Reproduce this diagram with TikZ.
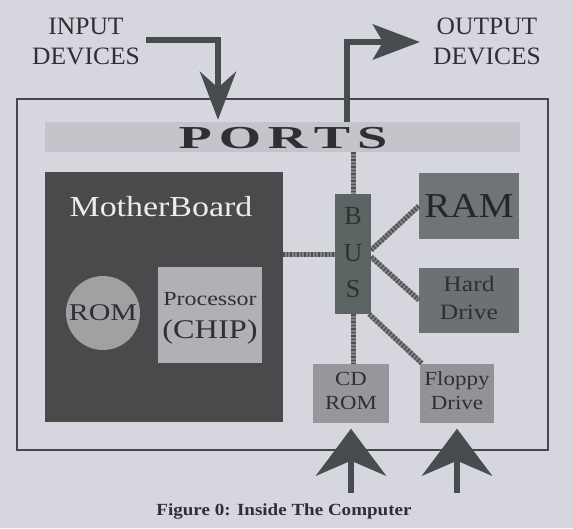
\documentclass[tikz,border=0pt]{standalone}
\usepackage{fontspec}
\setmainfont{Liberation Serif}
\usetikzlibrary{arrows.meta}
\definecolor{bg}{RGB}{214,214,222}
\definecolor{ink}{RGB}{46,48,52}
\definecolor{arrowc}{RGB}{72,76,78}
\definecolor{mbc}{RGB}{72,74,76}
\definecolor{busc}{RGB}{92,100,100}
\definecolor{ramc}{RGB}{112,116,118}
\definecolor{hdc}{RGB}{110,113,116}
\definecolor{cdc}{RGB}{150,151,154}
\definecolor{flc}{RGB}{146,147,150}
\definecolor{romc}{RGB}{160,161,163}
\definecolor{procc}{RGB}{176,177,180}
\definecolor{portc}{RGB}{196,197,203}
\definecolor{framec}{RGB}{70,72,76}
\definecolor{wirec}{RGB}{130,132,132}
\definecolor{wired}{RGB}{78,80,82}
\newcommand{\wx}[2]{\scalebox{#1}[1]{#2}}
\newcommand{\fs}[2]{\fontsize{#1}{#2}\selectfont}
\begin{document}
\begin{tikzpicture}[x=1pt,y=-1pt,
  box/.style={draw=none, inner sep=0pt, text=ink, align=center},
  lbl/.style={inner sep=0pt, text=ink, align=center},
  wire/.style={draw=wirec, line width=5pt, postaction={draw=wired, line width=5pt, dash pattern=on 1.5pt off 2pt}},
  bigarrow/.style={draw=arrowc, line width=6.5pt, line join=miter},
]
\fill[bg] (0,0) rectangle (573,528);
\useasboundingbox (0,0) rectangle (573,528);

% frame
\node[draw=framec, line width=1.2pt, minimum width=531pt, minimum height=351pt, inner sep=0pt] (frame) at (282.5,274.5) {};

% ports bar
\node[fill=portc, minimum width=475pt, minimum height=30pt, inner sep=0pt] (ports) at (282,137) {};
\node[lbl] (portslbl) at (283,138) {\wx{1.7}{\fs{32}{34}\bfseries P\kern4pt O\kern4pt R\kern4pt T\kern4pt S}};

% motherboard
\node[fill=mbc, minimum width=238pt, minimum height=250pt, inner sep=0pt] (mb) at (164,297) {};
\node[lbl, text={rgb,255:red,236;green,236;blue,238}] (mblbl) at (161,207) {\wx{1.17}{\fs{29}{32}MotherBoard}};
\node[circle, fill=romc, minimum size=74pt, inner sep=0pt, text=ink] (rom) at (103,313) {\wx{1.25}{\fs{24}{26}ROM}};
\node[box, fill=procc, minimum width=104pt, minimum height=96pt] (proc) at (210,315)
  {\wx{1.2}{\fs{27}{33}\begin{tabular}{@{}c@{}}\fs{20}{33}Processor\\\fs{27}{33}(CHIP)\end{tabular}}};

% bus and devices
\node[box, fill=busc, minimum width=36pt, minimum height=120pt, text={rgb,255:red,44;green,50;blue,50}] (bus) at (353,254)
  {\fs{26}{36.5}\begin{tabular}{@{}c@{}}B\\U\\S\end{tabular}};
\node[box, fill=ramc, minimum width=100pt, minimum height=66pt, text={rgb,255:red,36;green,38;blue,40}] (ram) at (469,206) {\wx{1.12}{\fs{35}{38}RAM}};
\node[box, fill=hdc, minimum width=100pt, minimum height=65pt] (hd) at (469,300)
  {\wx{1.16}{\fs{22}{28}\begin{tabular}{@{}c@{}}Hard\\Drive\end{tabular}}};
\node[box, fill=cdc, minimum width=76pt, minimum height=59pt] (cd) at (351,393)
  {\wx{1.14}{\fs{20}{24}\begin{tabular}{@{}c@{}}CD\\ROM\end{tabular}}};
\node[box, fill=flc, minimum width=74pt, minimum height=59pt] (fl) at (457,393)
  {\wx{1.15}{\fs{20}{24}\begin{tabular}{@{}c@{}}Floppy\\Drive\end{tabular}}};

% wires
\draw[wire] (bus.north |- ports.south) -- (bus.north);
\draw[wire] (mb.east |- bus.west) -- (bus.west);
\draw[wire] ([yshift=4pt]bus.east) -- (ram.west);
\draw[wire] ([yshift=-3pt]bus.east) -- (hd.west);
\draw[wire] (bus.south) -- (bus.south |- cd.north);
\draw[wire] ([xshift=-2pt]bus.south east) -- ([xshift=2pt]fl.north west);

% labels
\node[lbl] (inlbl) at (86,43) {\wx{1.02}{\fs{25}{30}\begin{tabular}{@{}c@{}}INPUT\\DEVICES\end{tabular}}};
\node[lbl] (outlbl) at (487,43) {\wx{1.02}{\fs{25}{30}\begin{tabular}{@{}c@{}}OUTPUT\\DEVICES\end{tabular}}};

% big arrows
\coordinate (in0) at (146,40);
\coordinate (inTurn) at (218,40);
\draw[bigarrow, -{Stealth[length=48pt,width=36pt,inset=16pt]}] (in0) -- (inTurn) -- ([yshift=2pt]inTurn |- ports.north);
\coordinate (outTurn) at (347,42);
\coordinate (outTip) at (420,42);
\draw[bigarrow, -{Stealth[length=47pt,width=35pt,inset=10pt]}] (outTurn |- ports.north) -- (outTurn) -- (outTip);

\coordinate (cdIn) at (351,493);
\coordinate (flIn) at (457,493);
\draw[bigarrow, line width=6pt, -{Stealth[length=47pt,width=70pt,inset=15pt]}] (cdIn) -- ([yshift=-6pt]cd.south);
\draw[bigarrow, line width=6pt, -{Stealth[length=47pt,width=70pt,inset=15pt]}] (flIn) -- ([yshift=-6pt]fl.south);

% caption
\node[lbl] (cap) at (284,511) {\wx{1.12}{\fs{17}{19}\bfseries Figure 0: Inside The Computer}};
\end{tikzpicture}
\end{document}
